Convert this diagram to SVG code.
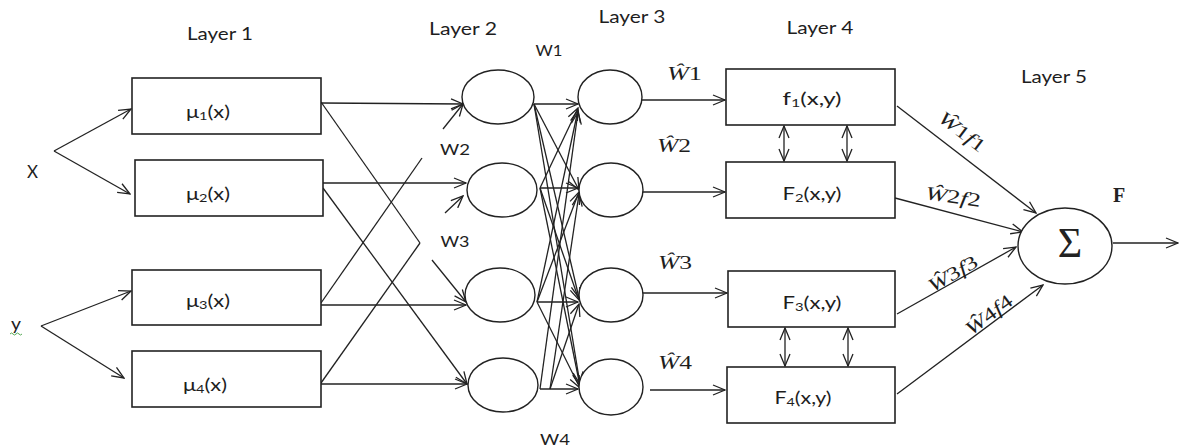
<svg xmlns="http://www.w3.org/2000/svg" width="1180" height="448" viewBox="0 0 1180 448">
<style>
.bg{fill:#fff}
.box{fill:#fff;stroke:#222;stroke-width:1.6}
.node{fill:#fff;stroke:#222;stroke-width:1.4}
.ln{fill:none;stroke:#222;stroke-width:1.3}
.sans{font-family:"Lato","Open Sans","Liberation Sans",sans-serif;fill:#1e1e1e}
.lay{font-size:17px}
.lbl{font-size:16.5px}
.w{font-size:15.5px}
.math{font-family:"Liberation Serif","DejaVu Serif",serif;fill:#1e1e1e;font-size:19px}
.it{font-style:italic}
</style>
<defs>
<marker id="a" viewBox="0 0 14 12" refX="13" refY="6" markerWidth="14" markerHeight="12" markerUnits="userSpaceOnUse" orient="auto-start-reverse">
<path d="M1,1 L13,6 L1,11" fill="none" stroke="#222" stroke-width="1.3"/>
</marker>
</defs>
<rect class="bg" x="0" y="0" width="1180" height="448"/>

<g id="layer-labels" class="sans lay" text-anchor="middle">
<text x="220" y="40" textLength="66" lengthAdjust="spacingAndGlyphs">Layer 1</text>
<text x="463" y="35" textLength="68" lengthAdjust="spacingAndGlyphs">Layer 2</text>
<text x="632" y="23" textLength="67" lengthAdjust="spacingAndGlyphs">Layer 3</text>
<text x="820" y="34" textLength="67" lengthAdjust="spacingAndGlyphs">Layer 4</text>
<text x="1054" y="83" textLength="66" lengthAdjust="spacingAndGlyphs">Layer 5</text>
</g>

<g id="connectors" class="ln">
<path d="M54,151 L131,109" marker-end="url(#a)"/>
<path d="M54,151 L130,194" marker-end="url(#a)"/>
<path d="M41,326 L131,291" marker-end="url(#a)"/>
<path d="M41,326 L124,378" marker-end="url(#a)"/>
<path d="M321,103 L463,104" marker-end="url(#a)"/>
<path d="M321,102 L420,243"/>
<path d="M321,383 L420,243"/>
<path d="M323,183 L466,183" marker-end="url(#a)"/>
<path d="M323,188 L467,384" marker-end="url(#a)"/>
<path d="M321,303 L422,158"/>
<path d="M443,129 L463,104" marker-end="url(#a)"/>
<path d="M321,305 L466,305" marker-end="url(#a)"/>
<path d="M321,384 L467,384" marker-end="url(#a)"/>
<path d="M445,213 L463,196" marker-end="url(#a)"/>
<path d="M432,260 L466,302" marker-end="url(#a)"/>
<path d="M534,104 L578,104" marker-end="url(#a)"/>
<path d="M534,104 L579,190" marker-end="url(#a)"/>
<path d="M534,104 L579,298" marker-end="url(#a)"/>
<path d="M534,104 L580,384" marker-end="url(#a)"/>
<path d="M540,188 L578,188" marker-end="url(#a)"/>
<path d="M540,188 L578,108" marker-end="url(#a)"/>
<path d="M540,188 L579,300" marker-end="url(#a)"/>
<path d="M540,188 L580,386" marker-end="url(#a)"/>
<path d="M537,302 L578,302" marker-end="url(#a)"/>
<path d="M537,302 L578,110" marker-end="url(#a)"/>
<path d="M537,302 L579,192" marker-end="url(#a)"/>
<path d="M537,302 L580,388" marker-end="url(#a)"/>
<path d="M540,389 L578,389" marker-end="url(#a)"/>
<path d="M540,389 L578,112" marker-end="url(#a)"/>
<path d="M550,389 L579,194" marker-end="url(#a)"/>
<path d="M550,389 L579,304" marker-end="url(#a)"/>
<path d="M642,100 L725,100" marker-end="url(#a)"/>
<path d="M642,192 L725,192" marker-end="url(#a)"/>
<path d="M642,293 L727,293" marker-end="url(#a)"/>
<path d="M650,390 L725,390" marker-end="url(#a)"/>
<path d="M784,126 L784,161" marker-start="url(#a)" marker-end="url(#a)"/>
<path d="M847,126 L847,161" marker-start="url(#a)" marker-end="url(#a)"/>
<path d="M785,328 L785,366" marker-start="url(#a)" marker-end="url(#a)"/>
<path d="M848,328 L848,366" marker-start="url(#a)" marker-end="url(#a)"/>
<path d="M897,106 L1036,213" marker-end="url(#a)"/>
<path d="M895,198 L1023,232" marker-end="url(#a)"/>
<path d="M897,314 L1016,247" marker-end="url(#a)"/>
<path d="M897,394 L1043,285" marker-end="url(#a)"/>
<path d="M1113,243 L1178,243" marker-end="url(#a)"/>
</g>

<g id="inputs" class="sans lbl">
<text x="27" y="178" textLength="11" lengthAdjust="spacingAndGlyphs">X</text>
<text x="11" y="330" textLength="10" lengthAdjust="spacingAndGlyphs">y</text>
<path d="M10,334 q1.5,-2 3,0 t3,0 t3,0 t3,0" fill="none" stroke="#5a5" stroke-width="1"/>
</g>

<g id="mu1"><rect class="box" x="132" y="78" width="189" height="56"/>
<text class="sans lbl" x="186" y="118" textLength="44" lengthAdjust="spacingAndGlyphs">μ<tspan font-size="11" dy="2">1</tspan><tspan dy="-2">(x)</tspan></text></g>
<g id="mu2"><rect class="box" x="135" y="160" width="188" height="56"/>
<text class="sans lbl" x="186" y="200" textLength="44" lengthAdjust="spacingAndGlyphs">μ<tspan font-size="11" dy="2">2</tspan><tspan dy="-2">(x)</tspan></text></g>
<g id="mu3"><rect class="box" x="132" y="270" width="189" height="55"/>
<text class="sans lbl" x="186" y="307" textLength="44" lengthAdjust="spacingAndGlyphs">μ<tspan font-size="11" dy="2">3</tspan><tspan dy="-2">(x)</tspan></text></g>
<g id="mu4"><rect class="box" x="132" y="351" width="189" height="56"/>
<text class="sans lbl" x="183" y="391" textLength="44" lengthAdjust="spacingAndGlyphs">μ<tspan font-size="11" dy="2">4</tspan><tspan dy="-2">(x)</tspan></text></g>

<g id="l2n1"><ellipse class="node" cx="498" cy="97" rx="36" ry="27"/></g>
<g id="l2n2"><ellipse class="node" cx="502" cy="190" rx="35" ry="27"/></g>
<g id="l2n3"><ellipse class="node" cx="500" cy="295" rx="35" ry="27"/></g>
<g id="l2n4"><ellipse class="node" cx="503" cy="385" rx="35" ry="27"/></g>

<g id="l3n1"><ellipse class="node" cx="610" cy="97" rx="32" ry="27"/></g>
<g id="l3n2"><ellipse class="node" cx="611" cy="190" rx="32" ry="27"/></g>
<g id="l3n3"><ellipse class="node" cx="611" cy="295" rx="32" ry="27"/></g>
<g id="l3n4"><ellipse class="node" cx="611" cy="387" rx="32" ry="28"/></g>

<g id="w-labels" class="sans w" text-anchor="middle">
<text x="549" y="56" textLength="27" lengthAdjust="spacingAndGlyphs">W1</text>
<text x="455" y="155" textLength="30" lengthAdjust="spacingAndGlyphs">W2</text>
<text x="455" y="247" textLength="29" lengthAdjust="spacingAndGlyphs">W3</text>
<text x="555" y="445" textLength="30" lengthAdjust="spacingAndGlyphs">W4</text>
</g>

<g id="what-labels" class="math">
<text x="667" y="80" textLength="35" lengthAdjust="spacingAndGlyphs"><tspan class="it">Ŵ</tspan>1</text>
<text x="657" y="152" textLength="34" lengthAdjust="spacingAndGlyphs"><tspan class="it">Ŵ</tspan>2</text>
<text x="658" y="269" textLength="34" lengthAdjust="spacingAndGlyphs"><tspan class="it">Ŵ</tspan>3</text>
<text x="658" y="369" textLength="34" lengthAdjust="spacingAndGlyphs"><tspan class="it">Ŵ</tspan>4</text>
</g>

<g id="f1"><rect class="box" x="726" y="69" width="169" height="56"/>
<text class="sans lbl" x="812" y="105" text-anchor="middle" textLength="59" lengthAdjust="spacingAndGlyphs">f<tspan font-size="11" dy="2">1</tspan><tspan dy="-2">(x,y)</tspan></text></g>
<g id="f2"><rect class="box" x="726" y="162" width="169" height="56"/>
<text class="sans lbl" x="812" y="200" text-anchor="middle" textLength="59" lengthAdjust="spacingAndGlyphs">F<tspan font-size="11" dy="2">2</tspan><tspan dy="-2">(x,y)</tspan></text></g>
<g id="f3"><rect class="box" x="728" y="271" width="167" height="56"/>
<text class="sans lbl" x="812" y="309" text-anchor="middle" textLength="59" lengthAdjust="spacingAndGlyphs">F<tspan font-size="11" dy="2">3</tspan><tspan dy="-2">(x,y)</tspan></text></g>
<g id="f4"><rect class="box" x="727" y="367" width="168" height="56"/>
<text class="sans lbl" x="803" y="404" text-anchor="middle" textLength="57" lengthAdjust="spacingAndGlyphs">F<tspan font-size="11" dy="2">4</tspan><tspan dy="-2">(x,y)</tspan></text></g>

<g id="product-labels" class="math" font-size="17.5" text-anchor="middle">
<text transform="translate(962,132) rotate(37.6)" y="6" textLength="54" lengthAdjust="spacingAndGlyphs"><tspan class="it">Ŵ</tspan>1<tspan class="it">f</tspan>1</text>
<text transform="translate(953,197) rotate(8)" y="6" textLength="56" lengthAdjust="spacingAndGlyphs"><tspan class="it">Ŵ</tspan>2<tspan class="it">f</tspan>2</text>
<text transform="translate(953,274) rotate(-30)" y="6" textLength="54" lengthAdjust="spacingAndGlyphs"><tspan class="it">Ŵ</tspan>3<tspan class="it">f</tspan>3</text>
<text transform="translate(989,315) rotate(-37)" y="6" textLength="54" lengthAdjust="spacingAndGlyphs"><tspan class="it">Ŵ</tspan>4<tspan class="it">f</tspan>4</text>
</g>

<g id="sum"><ellipse class="node" cx="1065" cy="246" rx="47" ry="38"/>
<text x="1070" y="257" text-anchor="middle" font-family="Liberation Serif, DejaVu Serif, serif" font-size="42" fill="#222">Σ</text></g>

<g id="output"><text x="1113" y="202" font-family="Liberation Serif, DejaVu Serif, serif" font-weight="bold" font-size="20" fill="#222">F</text></g>
</svg>
